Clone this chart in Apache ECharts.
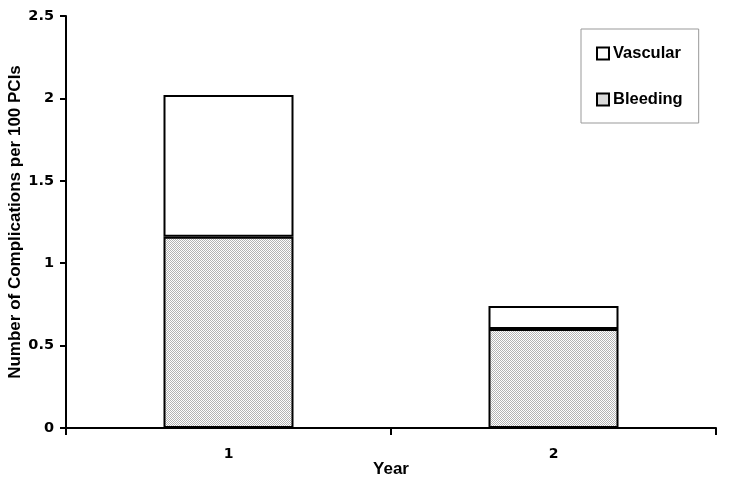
<!DOCTYPE html>
<html>
<head>
<meta charset="utf-8">
<script src="https://cdn.jsdelivr.net/npm/echarts@6/dist/echarts.min.js"></script>
<style>
html, body { margin: 0; padding: 0; background: #fff; }
#main { width: 729px; height: 484px; }
</style>
</head>
<body>
<div id="main"></div>
<script>
// data
var years = ['1', '2'];
var bleeding = [1.16, 0.60];
var vascular = [0.86, 0.14];
var yTicks = [0, 0.5, 1, 1.5, 2, 2.5];

var myChart = echarts.init(document.getElementById('main'));

// dotted grey fill like the original
function dots() {
	var c = document.createElement('canvas');
	c.width = 2;
	c.height = 2;
	var ctx = c.getContext('2d');
	ctx.fillStyle = '#ffffff';
	ctx.fillRect(0, 0, 2, 2);
	ctx.fillStyle = '#b4b4b4';
	ctx.fillRect(0, 0, 1, 1);
	ctx.fillRect(1, 1, 1, 1);
	return c;
}
var dotFill = { image: dots(), repeat: 'repeat' };

var font = 'Liberation Sans';
var tickFont = 'DejaVu Sans';

var option = {
	animation: false,
	backgroundColor: '#fff',
	grid: { left: 66, right: 13, top: 16, bottom: 56, containLabel: false, outerBoundsMode: 'none' },
	legend: {
		orient: 'vertical',
		left: 581,
		top: 29,
		padding: [16, 16, 15, 15],
		itemGap: 29,
		itemWidth: 12,
		itemHeight: 12,
		borderColor: '#999',
		borderWidth: 1,
		backgroundColor: '#fff',
		itemStyle: { borderColor: '#000', borderWidth: 2 },
		data: [
			{ name: 'Vascular', icon: 'rect' },
			{ name: 'Bleeding', icon: 'rect' }
		],
		textStyle: { fontFamily: font, fontWeight: 'bold', fontSize: 16.5, lineHeight: 16, color: '#000', padding: [0, 0, 0, -1] }
	},
	xAxis: {
		type: 'category',
		data: years,
		name: 'Year',
		nameLocation: 'middle',
		nameGap: 33,
		nameMoveOverlap: false,
		nameTextStyle: { fontFamily: font, fontWeight: 'bold', fontSize: 17, color: '#000' },
		axisLine: { lineStyle: { color: '#000', width: 2 } },
		axisTick: { show: true, length: 7, lineStyle: { color: '#000', width: 2 } },
		axisLabel: { margin: 19, fontFamily: tickFont, fontWeight: 'bold', fontSize: 14, color: '#000' }
	},
	yAxis: {
		type: 'value',
		min: yTicks[0],
		max: yTicks[yTicks.length - 1],
		interval: 0.5,
		name: 'Number of Complications per 100 PCIs',
		nameLocation: 'middle',
		nameGap: 42,
		nameMoveOverlap: false,
		nameTextStyle: { fontFamily: font, fontWeight: 'bold', fontSize: 17, color: '#000' },
		splitLine: { show: false },
		axisLine: { show: true, lineStyle: { color: '#000', width: 2 } },
		axisTick: { show: true, length: 6, lineStyle: { color: '#000', width: 2 } },
		axisLabel: { margin: 12, fontFamily: tickFont, fontWeight: 'bold', fontSize: 14.5, color: '#000' }
	},
	series: [
		{
			name: 'Bleeding',
			type: 'bar',
			stack: 'all',
			barWidth: '40%',
			data: bleeding,
			itemStyle: { color: dotFill, borderColor: '#000', borderWidth: 2 }
		},
		{
			name: 'Vascular',
			type: 'bar',
			stack: 'all',
			barWidth: '40%',
			data: vascular,
			itemStyle: { color: '#fff', borderColor: '#000', borderWidth: 2 }
		}
	]
};
myChart.setOption(option);
</script>
</body>
</html>
